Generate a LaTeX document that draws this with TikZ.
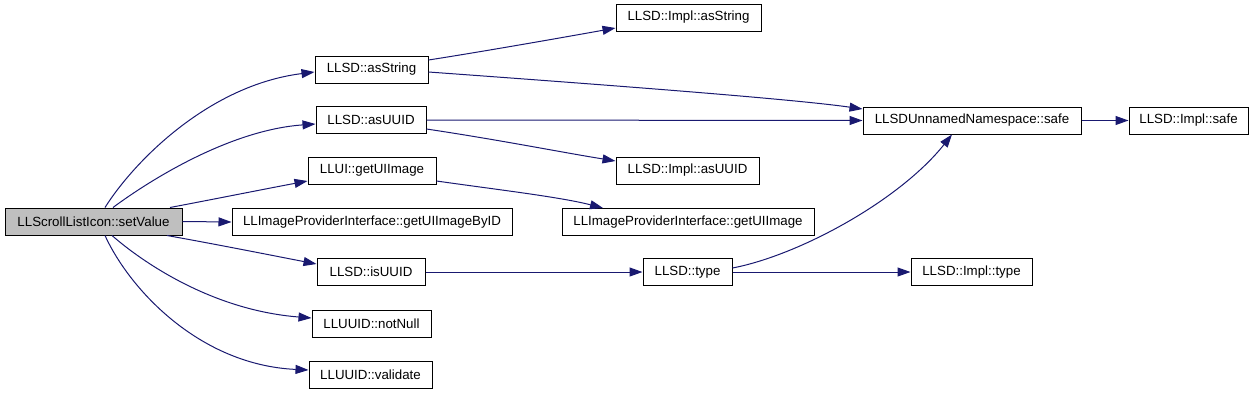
\documentclass[tikz,border=0pt]{standalone}
\usepackage{fontspec}
\setmainfont{Liberation Sans}
\usetikzlibrary{arrows.meta}
\definecolor{edgecol}{HTML}{191970}
\definecolor{hilite}{HTML}{BFBFBF}
\begin{document}
\begin{tikzpicture}[x=1pt,y=-1pt,
  fbox/.style={draw=black, line width=1pt, fill=white, inner sep=0pt,
    minimum height=27pt, font=\fontsize{13.3}{16}\selectfont},
  edge/.style={draw=edgecol, line width=1pt, -{Triangle[length=13pt,width=9pt]}}]
\useasboundingbox (0,0) rectangle (1256,392);
% nodes
\node[fbox, fill=hilite, minimum width=177pt] (sv) at (93.5,221.5) {LLScrollListIcon::setValue};
\node[fbox, minimum width=113pt] (asS) at (371.5,69.5) {LLSD::asString};
\node[fbox, minimum width=145pt] (iasS) at (688.5,17.5) {LLSD::Impl::asString};
\node[fbox, minimum width=110pt] (asU) at (371,120) {LLSD::asUUID};
\node[fbox, minimum width=218pt] (safe) at (972,120.5) {LLSDUnnamedNamespace::safe};
\node[fbox, minimum width=119pt] (isafe) at (1188.5,120.5) {LLSD::Impl::safe};
\node[fbox, minimum width=128pt] (ui) at (372,170.5) {LLUI::getUIImage};
\node[fbox, minimum width=143pt] (iasU) at (687.5,170.5) {LLSD::Impl::asUUID};
\node[fbox, minimum width=280pt] (byid) at (372,222) {LLImageProviderInterface::getUIImageByID};
\node[fbox, minimum width=252pt] (gui) at (688,222) {LLImageProviderInterface::getUIImage};
\node[fbox, minimum width=108pt] (isU) at (371,272) {LLSD::isUUID};
\node[fbox, minimum width=89pt] (type) at (687.5,272) {LLSD::type};
\node[fbox, minimum width=121pt] (itype) at (971.5,272) {LLSD::Impl::type};
\node[fbox, minimum width=119pt] (nn) at (371.5,323.5) {LLUUID::notNull};
\node[fbox, minimum width=123pt] (val) at (370.5,374.5) {LLUUID::validate};
% edges from setValue
\draw[edge] ([xshift=11.5pt]sv.north) .. controls (135,160) and (210,85) .. ([yshift=-2.5pt]asS.west);
\draw[edge] ([xshift=19.5pt]sv.north) .. controls (150,180) and (230,130) .. ([yshift=-4pt]asU.west);
\draw[edge] ([xshift=76.5pt]sv.north) .. controls (220,198) and (270,188) .. ([yshift=-10.5pt]ui.west);
\draw[edge] (sv.east) -- (byid.west);
\draw[edge] ([xshift=73.5pt]sv.south) .. controls (220,245) and (270,255) .. ([yshift=8pt]isU.west);
\draw[edge] ([xshift=18.5pt]sv.south) .. controls (140,260) and (210,310) .. ([yshift=5.5pt]nn.west);
\draw[edge] ([xshift=11.5pt]sv.south) .. controls (130,290) and (200,365) .. ([yshift=4.5pt]val.west);
% other edges
\draw[edge] ([yshift=9.5pt]asS.east) .. controls (480,52) and (560,38) .. ([yshift=-10.5pt]iasS.west);
\draw[edge] ([yshift=-2.5pt]asS.east) .. controls (650,88) and (800,100) .. ([yshift=11.5pt]safe.west);
\draw[edge] (asU.east) -- (safe.west);
\draw[edge] ([yshift=-9pt]asU.east) .. controls (500,140) and (560,152) .. ([yshift=9.5pt]iasU.west);
\draw[edge] ([yshift=-10.5pt]ui.east) .. controls (500,190) and (560,197) .. ([xshift=-85pt]gui.north);
\draw[edge] (safe.east) -- (isafe.west);
\draw[edge] (isU.east) -- (type.west);
\draw[edge] ([yshift=4pt]type.east) .. controls (800,255) and (900,200) .. ([xshift=-20pt]safe.south);
\draw[edge] (type.east) -- (itype.west);
\end{tikzpicture}
\end{document}
